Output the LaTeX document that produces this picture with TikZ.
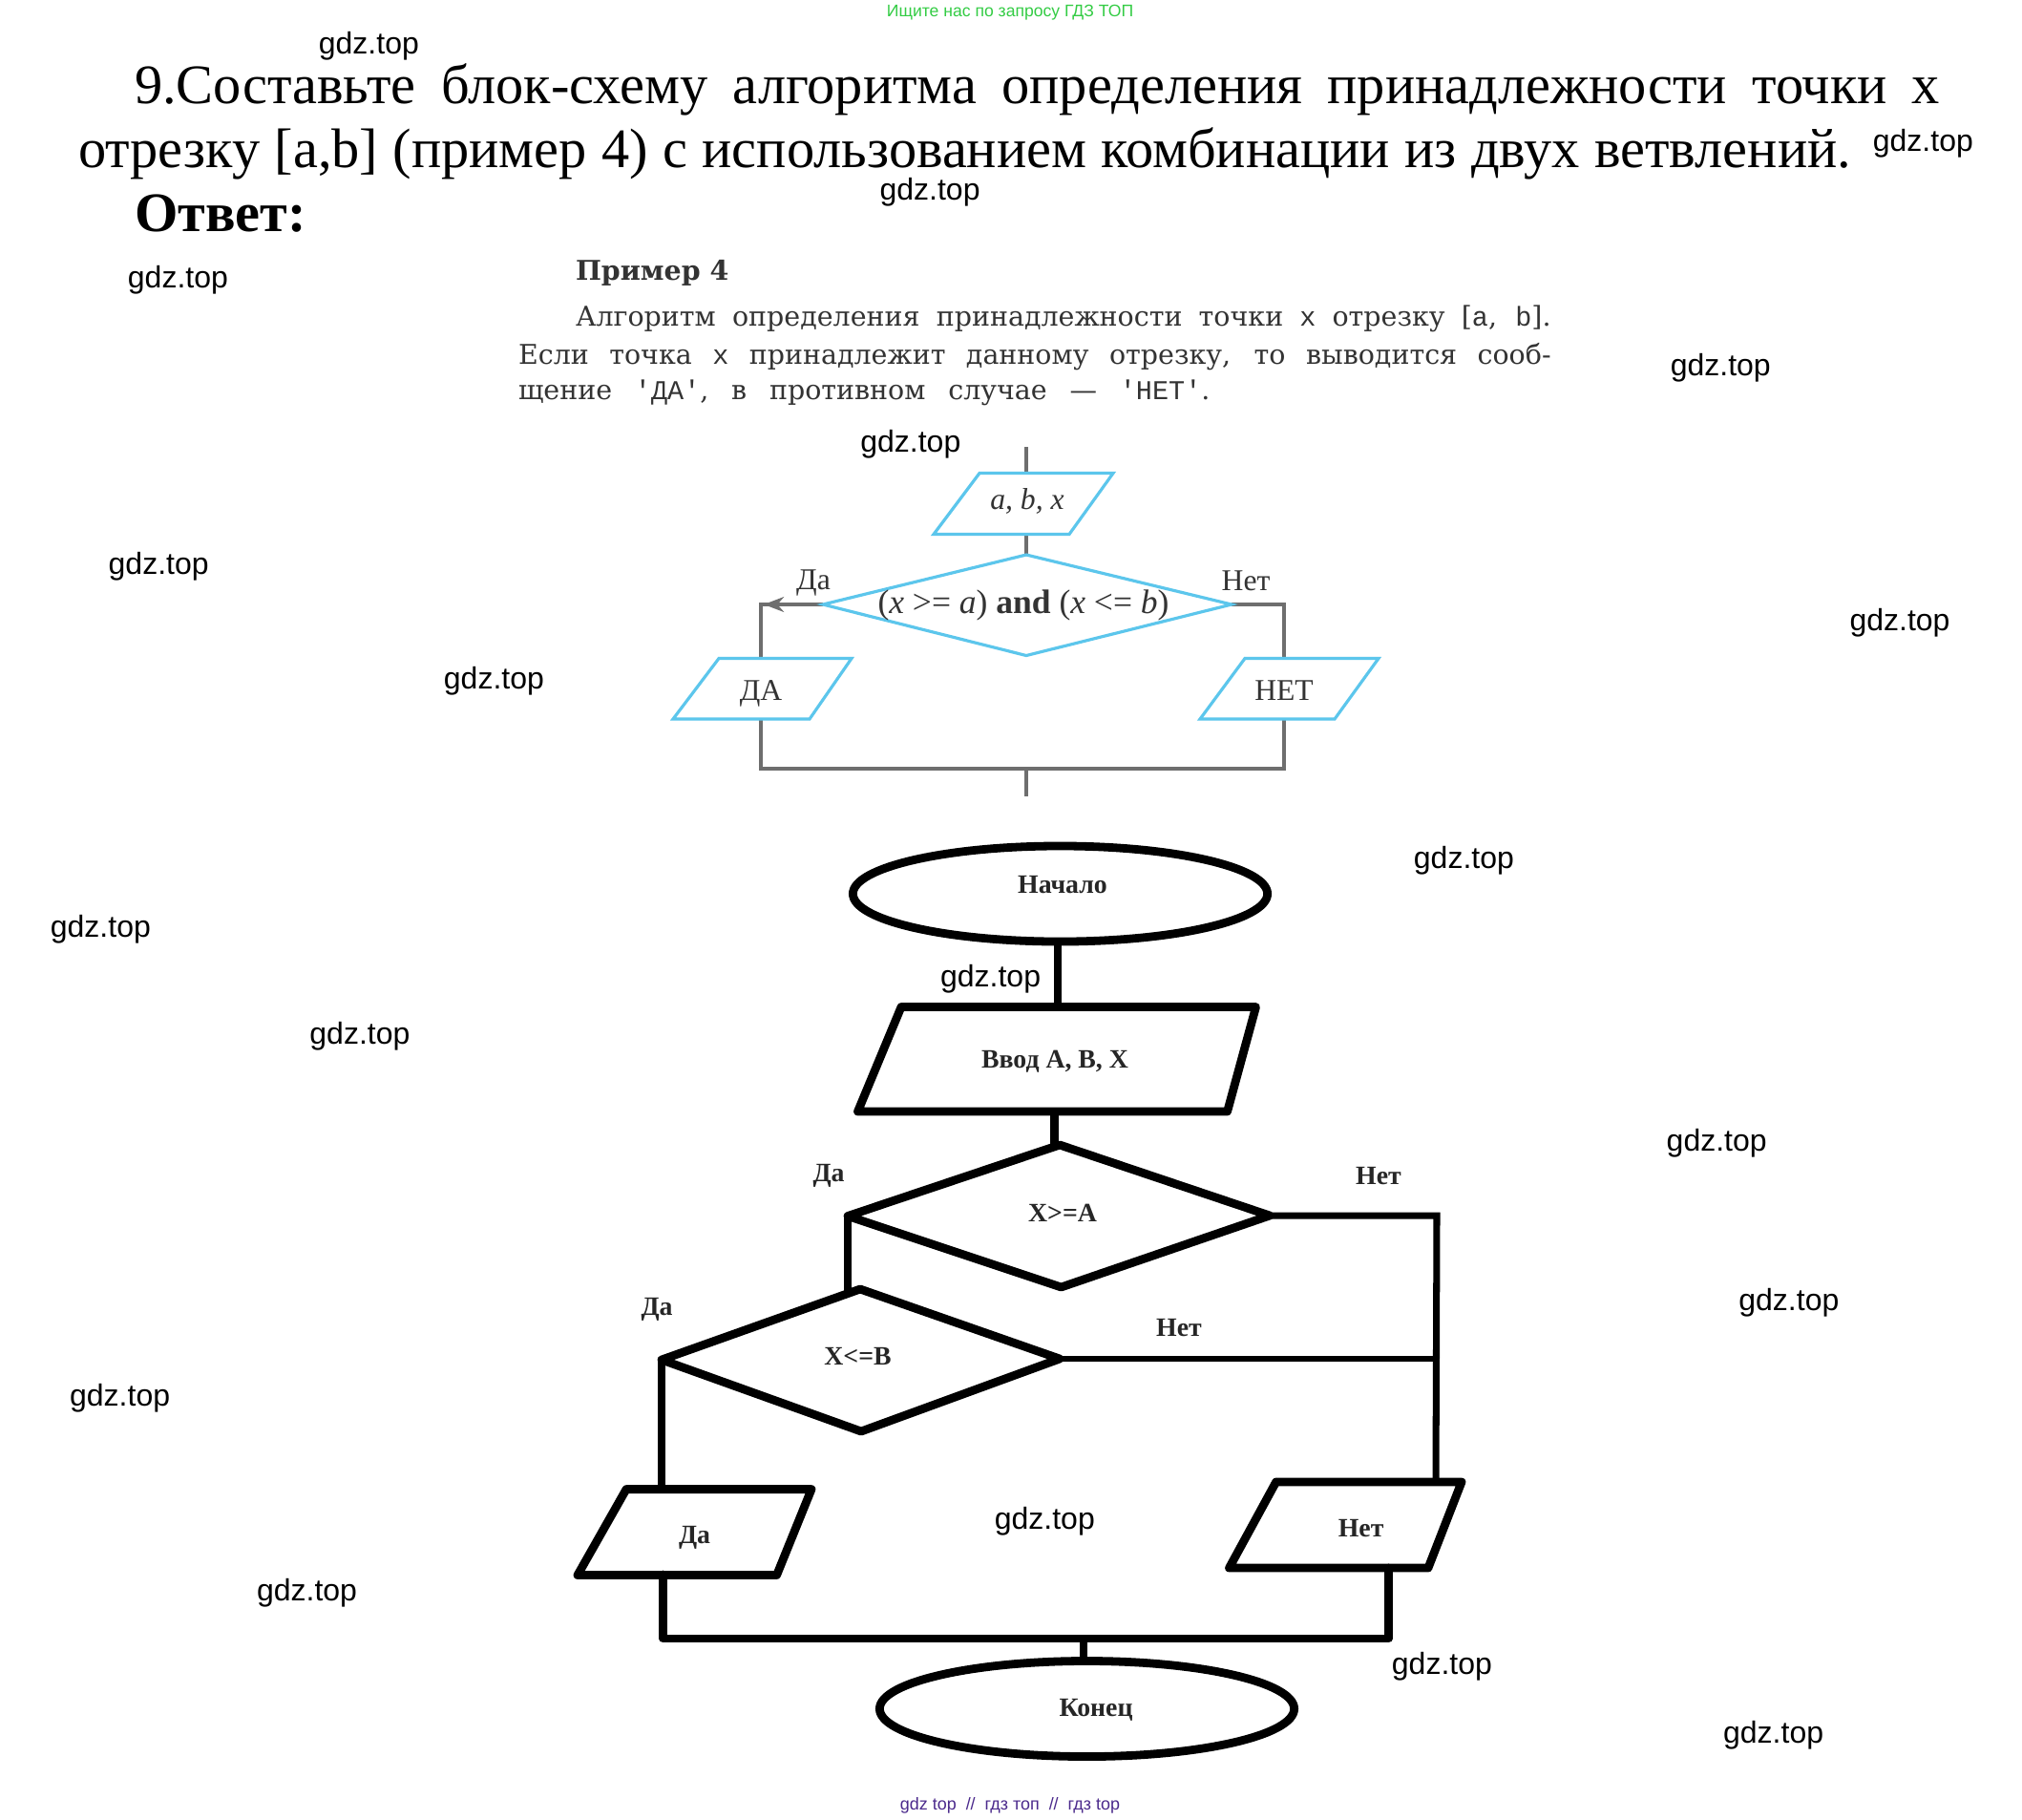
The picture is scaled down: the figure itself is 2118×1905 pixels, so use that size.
\documentclass[tikz,border=0pt]{standalone}
\usepackage{fontspec}
\setmainfont{Liberation Serif}
\setsansfont{Liberation Sans}
\setmonofont{Liberation Mono}
\newfontfamily\bookfont{DejaVu Serif}
\usetikzlibrary{shapes.geometric,arrows.meta}
\definecolor{wmgreen}{HTML}{33CC44}
\definecolor{wmpurple}{HTML}{4B2A8C}
\definecolor{skyblue}{HTML}{5CC6EC}
\definecolor{railgrey}{HTML}{6E6E6E}
\definecolor{booktext}{HTML}{333333}
\tikzset{
  lab/.style={inner sep=0pt,outer sep=0pt},
  wm/.style={lab,font=\sffamily\fontsize{9.1}{11}\selectfont,text=black},
  titleline/.style={lab,anchor=base west,font=\fontsize{16.6}{20}\selectfont},
  bookline/.style={lab,anchor=base west,text=booktext,font=\bookfont\fontsize{8.1}{10}\selectfont},
  booklab/.style={lab,text=booktext,font=\fontsize{9}{11}\selectfont},
  blueshape/.style={draw=skyblue,line width=0.9pt,line join=miter},
  greyline/.style={draw=railgrey,line width=1.1pt},
  blackshape/.style={draw=black,line width=2.5pt,line join=round},
  blackline/.style={draw=black,line width=2.5pt,line cap=butt,line join=round},
  thinline/.style={draw=black,line width=1.7pt,line cap=round},
  capt/.style={lab,text=black!85,font=\bfseries\fontsize{7.9}{10}\selectfont},
  oval/.style={ellipse,draw=black,line width=2.5pt,inner sep=0pt,minimum width=4.34cm,minimum height=1.0cm},
}
\begin{document}
\begin{tikzpicture}[x=0.01cm,y=-0.01cm]
\useasboundingbox (0,0) rectangle (2118,1905);
\fill[white] (0,0) rectangle (2118,1905);

% header and footer
\node[lab,text=wmgreen,font=\sffamily\fontsize{5}{6}\selectfont] (hdr) at (1058,13.5) {Ищите нас по запросу ГДЗ ТОП};
\node[lab,text=wmpurple,font=\sffamily\fontsize{5.1}{6}\selectfont] (ftr) at (1058,1891) {gdz top\ \ //\ \ гдз топ\ \ //\ \ гдз top};

% title
\node[titleline] (t1) at (141,108) {\makebox[18.9cm][s]{9.Составьте блок-схему алгоритма определения принадлежности точки х}};
\node[titleline] (t2) at (82,175) {\makebox[18.56cm][s]{отрезку [a,b] (пример 4) с использованием комбинации из двух ветвлений.}};
\node[titleline,font=\bfseries\fontsize{16.6}{20}\selectfont] (t3) at (141,242) {Ответ:};

% book excerpt
\node[bookline,font=\bookfont\bfseries\fontsize{8.1}{10}\selectfont] (p0) at (603,293) {Пример 4};
\node[bookline] (p1) at (603,341) {\makebox[10.21cm][s]{Алгоритм определения принадлежности точки {\ttfamily x} отрезку [{\ttfamily a}, {\ttfamily b}].}};
\node[bookline] (p2) at (543,381) {\makebox[10.81cm][s]{Если точка {\ttfamily x} принадлежит данному отрезку, то выводится сооб-}};
\node[bookline] (p3) at (543,418) {\makebox[7.24cm][s]{щение {\ttfamily'ДА'}, в противном случае — {\ttfamily'НЕТ'}.}};

% example chart
\coordinate (ein) at (1075,468);
\coordinate (eint) at (1075,496);
\coordinate (einb) at (1075,559);
\coordinate (edt) at (1075,581);
\coordinate (edb) at (1075,686.5);
\coordinate (edl) at (862,633);
\coordinate (edr) at (1290,633);
\coordinate (eyc) at (797,633);
\coordinate (eyt) at (797,690);
\coordinate (eyb) at (797,753);
\coordinate (enc) at (1345,633);
\coordinate (ent) at (1345,690);
\coordinate (enb) at (1345,753);
\coordinate (ery) at (797,805);
\coordinate (ern) at (1345,805);
\coordinate (erm) at (1075,805);
\coordinate (eout) at (1075,834);
\coordinate (etip) at (800,633);
\draw[greyline] (ein) -- (eint) (einb) -- (edt);
\draw[greyline] (edl) -- (eyc) -- (eyt) (edr) -- (enc) -- (ent);
\draw[railgrey,-{Stealth[length=6pt,width=4.5pt]},line width=1.2pt] (edl) -- (etip);
\draw[greyline,line width=1.4pt] (eyb) -- (ery) -- (ern) -- (enb);
\draw[greyline] (erm) -- (eout);
\draw[blueshape] (1026,495.5) -- (1166,495.5) -- (1120,559.5) -- (978,559.5) -- cycle;
\draw[blueshape] (edt) -- (edr) -- (edb) -- (edl) -- cycle;
\draw[blueshape] (753,689.5) -- (892,689.5) -- (848,753) -- (705,753) -- cycle;
\draw[blueshape] (1304,689.5) -- (1444,689.5) -- (1398,753) -- (1257,753) -- cycle;
\node[booklab,font=\itshape\fontsize{9}{10}\selectfont] (eabx) at (1076,525) {a, b, x};
\node[booklab,font=\fontsize{10.1}{12}\selectfont] (econd) at (1072,634) {(\textit{x} >= \textit{a}) \textbf{and} (\textit{x} <= \textit{b})};
\node[booklab] (ey) at (852,610) {Да};
\node[booklab] (en) at (1305,608) {Нет};
\node[booklab] (eda) at (797,726) {ДА};
\node[booklab] (enet) at (1345,723.5) {НЕТ};

% answer chart
\node[oval] (start) at (1110.5,936) {};
\node[capt] (starttxt) at (1113,927) {Начало};
\coordinate (i1) at (944,1054.5);
\coordinate (i2) at (1315.5,1054.5);
\coordinate (i3) at (1285.6,1164);
\coordinate (i4) at (898.5,1164);
\coordinate (inT) at (1108,1054);
\coordinate (inB) at (1104.5,1164);
\draw[blackshape] (i1) -- (i2) -- (i3) -- (i4) -- cycle;
\node[capt] (intxt) at (1105,1111.5) {Ввод А, В, Х};
\coordinate (at) at (1110,1199);
\coordinate (ar) at (1330,1273);
\coordinate (ab) at (1111.5,1348);
\coordinate (al) at (888,1273.5);
\coordinate (atin) at (1104.5,1200);
\draw[blackshape] (at) -- (ar) -- (ab) -- (al) -- cycle;
\node[capt] (atxt) at (1113,1270) {X>=A};
\coordinate (bt) at (901,1350);
\coordinate (br) at (1110,1423);
\coordinate (bb) at (902,1499);
\coordinate (bl) at (693,1424);
\coordinate (btin) at (888,1354);
\draw[blackshape] (bt) -- (br) -- (bb) -- (bl) -- cycle;
\node[capt] (btxt) at (898.5,1420.6) {X<=B};
\coordinate (y1) at (656,1559.6);
\coordinate (y2) at (850,1559.6);
\coordinate (y3) at (813.6,1649.5);
\coordinate (y4) at (605,1649.5);
\coordinate (yT) at (693,1559);
\coordinate (yB) at (694.5,1649);
\draw[blackshape] (y1) -- (y2) -- (y3) -- (y4) -- cycle;
\node[capt] (ytxt) at (727.5,1610) {Да};
\coordinate (n1) at (1336.6,1552);
\coordinate (n2) at (1531,1552);
\coordinate (n3) at (1496,1642);
\coordinate (n4) at (1287.5,1642);
\coordinate (nT) at (1504,1552);
\coordinate (nB) at (1454.6,1642);
\draw[blackshape] (n1) -- (n2) -- (n3) -- (n4) -- cycle;
\node[capt] (ntxt) at (1425.6,1601) {Нет};
\node[oval] (stop) at (1138.5,1789.5) {};
\node[capt] (stoptxt) at (1148,1791) {Конец};
\coordinate (ac) at (1505,1273);
\coordinate (bc) at (1504,1423);
\coordinate (ry) at (694.5,1716);
\coordinate (rn) at (1454.6,1716);
\coordinate (rm) at (1135,1716);
\coordinate (startb) at (1108,984);
\coordinate (stopt) at (1135,1740);
\draw[blackline] (startb) -- (inT);
\draw[blackline] (inB) -- (atin);
\draw[blackline] (al) -- (btin);
\draw[blackline] (bl) -- (yT);
\draw[thinline,line width=2pt] (ar) -- (ac) -- (nT);
\draw[thinline] (br) -- (bc);
\draw[blackline,line cap=round] (yB) -- (ry) -- (rn) -- (nB);
\draw[blackline] (rm) -- (stopt);
\node[capt] (l1) at (868,1231.5) {Да};
\node[capt] (l2) at (1444,1232) {Нет};
\node[capt] (l3) at (688,1371.5) {Да};
\node[capt] (l4) at (1235,1390.6) {Нет};

% watermarks
\foreach \n/\px/\py in {a/286/36,b/1491/111,c/721/149,d/138/217,e/1334/285,f/706/344,g/123/439,h/1473/483,i/383/528,j/1135/667,k/78/720,l/768/759,m/279/803,n/1331/886,o/1387/1010,p/93/1084,q/810/1179,r/238/1235,s/1118/1292,t/1375/1345}
  \node[wm] (wm\n) at ({\px*1.351},{\py*1.351}) {gdz.top};
\end{tikzpicture}
\end{document}
